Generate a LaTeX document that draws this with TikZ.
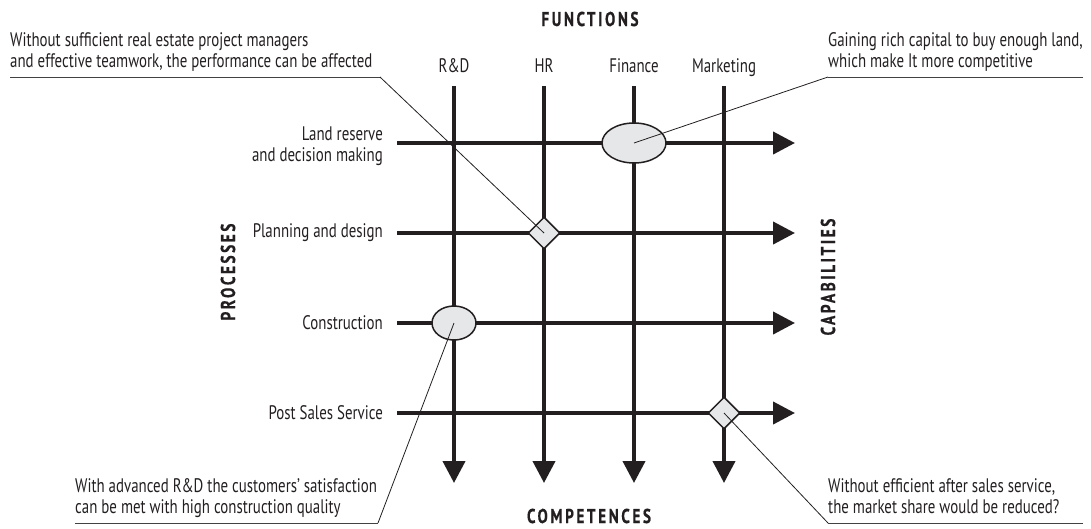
\documentclass[tikz,border=0pt]{standalone}
\usepackage{fontspec}
\setmainfont{PT Sans}[FakeStretch=0.76]
\usetikzlibrary{arrows.meta,shapes.geometric}
\definecolor{ink}{HTML}{231F20}
\definecolor{fillg}{HTML}{E6E7E8}
\begin{document}
\begin{tikzpicture}[x=1pt,y=-1pt,
  flow/.style={line width=4pt, draw=ink, -{Triangle[length=22pt,width=22pt]}},
  lbl/.style={font=\fontsize{19.6}{20.5}\selectfont, text=ink, inner sep=0pt},
  head/.style={font=\fontsize{20}{21}\selectfont\bfseries\addfontfeature{LetterSpace=13,FakeBold=0.6}, text=ink, inner sep=0pt},
  leader/.style={draw=ink, line width=0.8pt},
  uline/.style={draw=ink!85, line width=0.8pt},
  oval/.style={ellipse, draw=ink, line width=1.5pt, fill=fillg, inner sep=0pt},
  dia/.style={diamond, draw=ink, line width=1.5pt, fill=fillg, inner sep=0pt, minimum width=32pt, minimum height=32pt}]
\useasboundingbox (0,0) rectangle (1091,528);
% headings
\node[head, anchor=base] (functions) at (590,26) {FUNCTIONS};
\node[head, anchor=base, text depth=0pt] (competences) at (589,523) {COMPETENCES};
\node[head, rotate=90] (processes) at (228,272) {PROCESSES};
\node[head, rotate=90] (capabilities) at (828,277) {CAPABILITIES};
% column labels
\node[lbl, anchor=base] (rd) at (454,72) {R\&D};
\node[lbl, anchor=base] (hr) at (544,72) {HR};
\node[lbl, anchor=base] (fin) at (634,72) {Finance};
\node[lbl, anchor=base] (mkt) at (724,72) {Marketing};
% row labels
\node[lbl, anchor=east, align=right] (land) at (383,146) {Land reserve\\and decision making};
\node[lbl, anchor=east] (plan) at (383,233) {Planning and design};
\node[lbl, anchor=east] (cons) at (383,323) {Construction};
\node[lbl, anchor=east] (post) at (383,413) {Post Sales Service};
% line end points
\coordinate (c1a) at (454,86); \coordinate (c1b) at (454,483);
\coordinate (c2a) at (544,86); \coordinate (c2b) at (544,483);
\coordinate (c3a) at (634,86); \coordinate (c3b) at (634,483);
\coordinate (c4a) at (724,86); \coordinate (c4b) at (724,483);
\coordinate (r1a) at (397,143); \coordinate (r1b) at (795,143);
\coordinate (r2a) at (397,233); \coordinate (r2b) at (795,233);
\coordinate (r3a) at (397,323); \coordinate (r3b) at (795,323);
\coordinate (r4a) at (397,413); \coordinate (r4b) at (795,413);
\foreach \i in {1,2,3,4} {
  \draw[flow] (c\i a) -- (c\i b);
  \draw[flow] (r\i a) -- (r\i b);
}
% markers
\node[oval, minimum width=64pt, minimum height=40pt] (mfin) at (634,143) {};
\node[oval, minimum width=44pt, minimum height=34pt] (mrd) at (454,323) {};
\node[dia] (mhr) at (544,233) {};
\node[dia] (mmkt) at (724,413) {};
% annotations (base = last line)
\node[lbl, anchor=base west, align=left] (a1) at (10,67) {Without sufficient real estate project managers\\and effective teamwork, the performance can be affected};
\node[lbl, anchor=base west, align=left] (a2) at (828,67) {Gaining rich capital to buy enough land,\\which make It more competitive};
\node[lbl, anchor=base west, align=left] (a3) at (75,513) {With advanced R\&D the customers' satisfaction\\can be met with high construction quality};
\node[lbl, anchor=base west, align=left] (a4) at (828,513) {Without efficient after sales service,\\the market share would be reduced?};
\coordinate (u1a) at (10,77); \coordinate (u1b) at (380,77);
\coordinate (u2a) at (828,77); \coordinate (u2b) at (1083,77);
\coordinate (u3a) at (75,523); \coordinate (u3b) at (378,523);
\coordinate (u4a) at (828,523); \coordinate (u4b) at (1083,523);
\draw[uline] (u1a) -- (u1b);
\draw[uline] (u2b) -- (u2a);
\draw[uline] (u3a) -- (u3b);
\draw[uline] (u4b) -- (u4a);
\draw[leader] (u1b) -- (mhr.center);
\draw[leader] (u2a) -- (mfin.center);
\draw[leader] (u3b) -- (mrd.center);
\draw[leader] (u4a) -- (mmkt.center);
\end{tikzpicture}
\end{document}
